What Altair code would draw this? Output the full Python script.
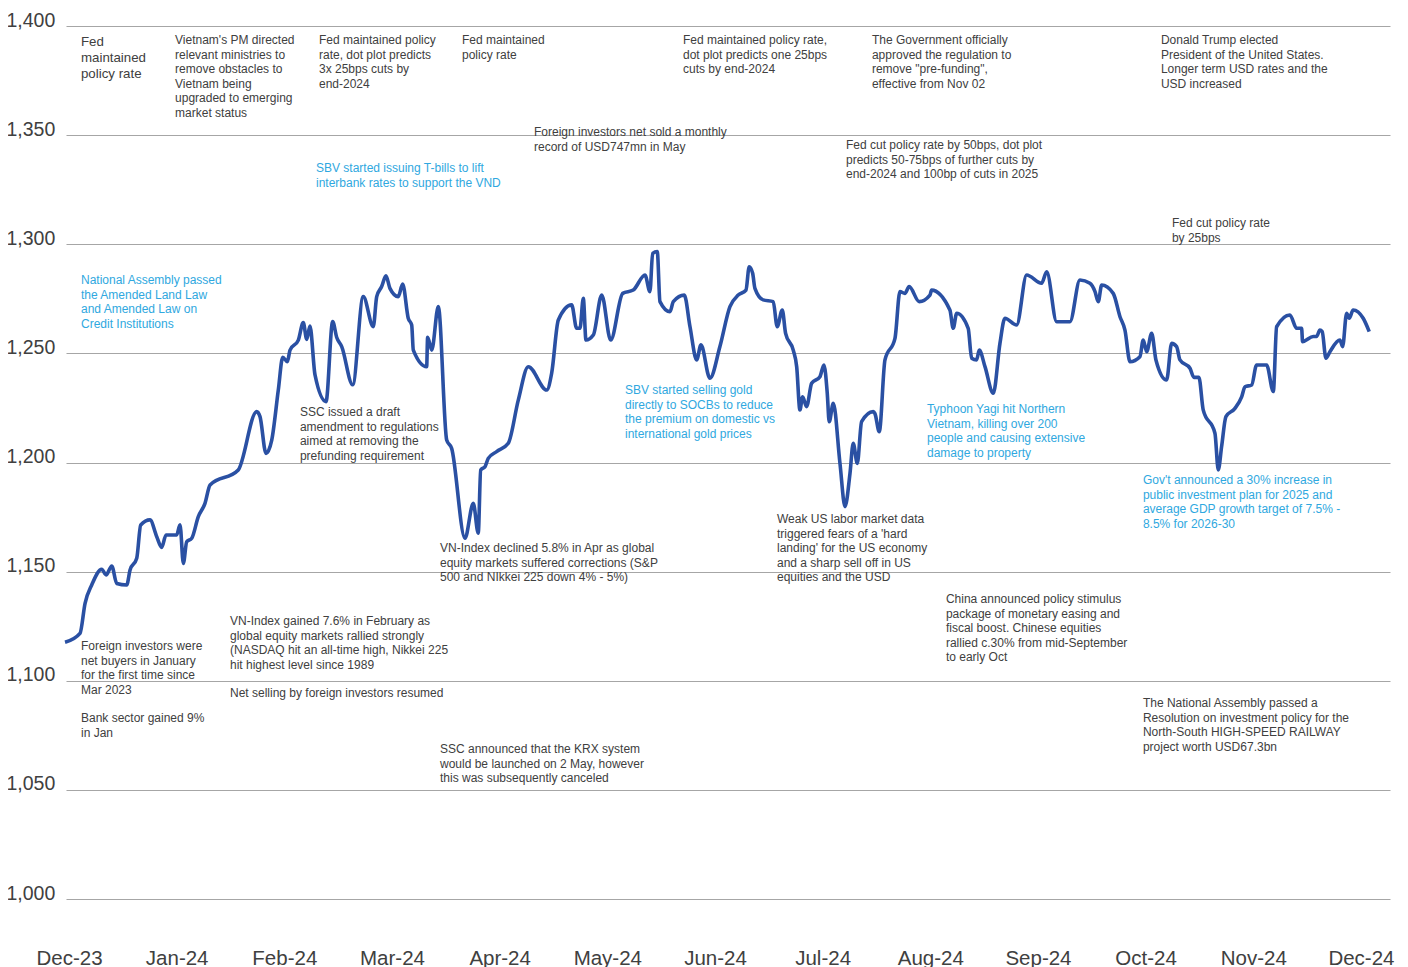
import altair as alt
import pandas as pd

month_labels = ["Dec-23", "Jan-24", "Feb-24", "Mar-24", "Apr-24", "May-24", "Jun-24",
                "Jul-24", "Aug-24", "Sep-24", "Oct-24", "Nov-24", "Dec-24"]
y_ticks = [1000, 1050, 1100, 1150, 1200, 1250, 1300, 1350, 1400]

# position along the axis in months since the Dec-23 label
x_month = [-0.037, 0.102, 0.149, 0.211, 0.304, 0.344, 0.397, 0.443, 0.536, 0.567,
           0.629, 0.666, 0.752, 0.815, 0.861, 0.901, 1.000, 1.031, 1.062, 1.093,
           1.140, 1.201, 1.263, 1.310, 1.572, 1.743, 1.774, 1.830, 1.883, 1.944,
           1.985, 2.028, 2.053, 2.130, 2.176, 2.208, 2.238, 2.285, 2.387, 2.449,
           2.486, 2.533, 2.635, 2.733, 2.826, 2.858, 2.904, 2.944, 2.981, 3.058,
           3.099, 3.151, 3.183, 3.198, 3.322, 3.331, 3.369, 3.430, 3.508, 3.554,
           3.678, 3.755, 3.801, 3.824, 3.864, 3.894, 3.972, 4.080, 4.173, 4.266,
           4.437, 4.483, 4.545, 4.669, 4.715, 4.746, 4.777, 4.802, 4.870, 4.948,
           5.031, 5.143, 5.241, 5.350, 5.396, 5.421, 5.464, 5.489, 5.582, 5.613,
           5.715, 5.768, 5.830, 5.870, 5.953, 6.046, 6.139, 6.216, 6.288, 6.318,
           6.350, 6.371, 6.448, 6.541, 6.578, 6.625, 6.656, 6.727, 6.759, 6.789,
           6.814, 6.851, 6.898, 6.975, 7.012, 7.043, 7.061, 7.099, 7.161, 7.208,
           7.254, 7.284, 7.322, 7.362, 7.470, 7.486, 7.526, 7.579, 7.672, 7.718,
           7.764, 7.804, 7.897, 7.997, 8.012, 8.182, 8.213, 8.245, 8.352, 8.384,
           8.430, 8.455, 8.508, 8.585, 8.647, 8.693, 8.802, 8.895, 9.034, 9.081,
           9.174, 9.297, 9.390, 9.483, 9.530, 9.560, 9.592, 9.699, 9.762, 9.808,
           9.855, 9.947, 9.978, 10.010, 10.056, 10.096, 10.195, 10.242, 10.288, 10.319,
           10.412, 10.449, 10.495, 10.535, 10.644, 10.675, 10.706, 10.746, 10.830, 10.892,
           10.923, 10.985, 11.031, 11.124, 11.186, 11.217, 11.340, 11.403, 11.449, 11.458,
           11.557, 11.588, 11.619, 11.640, 11.675, 11.712, 11.805, 11.830, 11.867, 11.891,
           11.928, 12.021, 12.077]

vn_index = [1117.6, 1121.7, 1135.5, 1143.9, 1151.1, 1148.5, 1152.6, 1144.6, 1143.9, 1150.7,
            1156.1, 1171.4, 1173.7, 1166.0, 1161.1, 1166.8, 1166.8, 1171.4, 1153.8, 1163.7,
            1165.3, 1175.2, 1181.3, 1189.7, 1196.6, 1223.3, 1221.0, 1204.2, 1210.3, 1233.2,
            1248.2, 1246.2, 1251.5, 1256.1, 1264.1, 1256.4, 1262.5, 1240.1, 1227.9, 1264.6,
            1257.4, 1253.1, 1235.6, 1276.0, 1262.2, 1276.0, 1280.6, 1285.5, 1279.8, 1276.0,
            1281.8, 1266.1, 1263.0, 1251.5, 1243.9, 1257.4, 1251.5, 1271.4, 1210.3, 1206.5,
            1165.3, 1181.3, 1167.6, 1196.6, 1198.1, 1201.9, 1205.0, 1208.8, 1228.6, 1243.9,
            1233.2, 1240.9, 1265.3, 1272.2, 1261.5, 1261.5, 1275.2, 1256.1, 1258.4, 1276.7,
            1256.1, 1277.5, 1279.0, 1285.9, 1278.3, 1295.8, 1296.6, 1273.7, 1269.1, 1273.7,
            1276.7, 1262.2, 1247.0, 1253.9, 1238.6, 1253.1, 1271.4, 1276.7, 1279.0, 1289.7,
            1286.7, 1279.8, 1274.5, 1273.7, 1262.2, 1269.9, 1259.2, 1251.5, 1243.9, 1224.1,
            1230.1, 1225.6, 1236.3, 1239.3, 1244.7, 1231.7, 1218.7, 1227.1, 1199.6, 1179.8,
            1195.0, 1208.8, 1199.6, 1218.7, 1223.3, 1222.4, 1214.1, 1247.0, 1256.9, 1278.3,
            1277.5, 1280.6, 1273.7, 1276.7, 1279.0, 1269.9, 1261.5, 1268.4, 1261.5, 1247.8,
            1247.0, 1251.5, 1243.9, 1231.7, 1254.6, 1266.1, 1263.0, 1285.9, 1282.1, 1287.4,
            1264.5, 1264.5, 1283.6, 1282.1, 1278.3, 1273.7, 1281.3, 1277.5, 1266.8, 1260.7,
            1246.2, 1248.5, 1256.1, 1250.8, 1259.2, 1247.0, 1237.8, 1254.6, 1253.1, 1247.0,
            1243.2, 1239.0, 1239.0, 1224.1, 1213.4, 1196.6, 1207.3, 1221.0, 1224.8, 1230.1,
            1234.7, 1235.5, 1244.7, 1244.7, 1232.5, 1262.2, 1267.6, 1261.5, 1261.5, 1255.4,
            1257.7, 1257.7, 1260.7, 1260.0, 1247.8, 1250.8, 1256.1, 1253.1, 1268.4, 1266.1,
            1269.9, 1266.1, 1260.0]

# annotations (anchor: month position, index level)
head_text = ["Fed\nmaintained\npolicy rate"]
head_x = [0.111]
head_y = [1396.0]

dark_texts = [
    "Vietnam's PM directed\nrelevant ministries to\nremove obstacles to\nVietnam being\nupgraded to emerging\nmarket status",
    "Fed maintained policy\nrate, dot plot predicts\n3x 25bps cuts by\nend-2024",
    "Fed maintained\npolicy rate",
    "Fed maintained policy rate,\ndot plot predicts one 25bps\ncuts by end-2024",
    "The Government officially\napproved the regulation to\nremove \"pre-funding\",\neffective from Nov 02",
    "Donald Trump elected\nPresident of the United States.\nLonger term USD rates and the\nUSD increased",
    "Foreign investors net sold a monthly\nrecord of USD747mn in May",
    "Fed cut policy rate by 50bps, dot plot\npredicts 50-75bps of further  cuts by\nend-2024 and 100bp of cuts in  2025",
    "Fed cut policy rate\nby 25bps",
    "SSC issued a draft\namendment to regulations\naimed at removing the\nprefunding requirement",
    "Weak US labor market data\ntriggered fears of a 'hard\nlanding' for the US economy\nand a sharp sell off in US\nequities and the USD",
    "VN-Index declined 5.8% in Apr as global\nequity markets suffered corrections (S&P\n500 and NIkkei 225 down 4% - 5%)",
    "China announced policy stimulus\npackage of monetary easing and\nfiscal boost. Chinese equities\nrallied c.30% from mid-September\nto  early Oct",
    "VN-Index gained 7.6% in February as\nglobal equity markets rallied strongly\n(NASDAQ hit an all-time high, Nikkei 225\nhit highest level since 1989",
    "Foreign investors were\nnet buyers in January\nfor the first time since\nMar 2023",
    "Net selling by foreign investors resumed",
    "Bank sector gained 9%\nin Jan",
    " The National Assembly passed a\nResolution on investment policy for the\nNorth-South HIGH-SPEED RAILWAY\nproject worth USD67.3bn",
    "SSC announced that the KRX system\nwould be launched on 2 May, however\nthis was subsequently canceled",
]
dark_x = [0.985, 2.322, 3.650, 5.703, 7.458, 10.142, 4.319, 7.217, 10.244, 2.145,
          6.576, 3.446, 8.145, 1.495, 0.111, 1.495, 0.111, 9.975, 3.446]
dark_y = [1395.7, 1395.7, 1395.7, 1395.7, 1395.7, 1395.7, 1353.6, 1347.6, 1311.8, 1225.3,
          1176.3, 1162.9, 1139.6, 1129.5, 1118.0, 1096.5, 1085.0, 1091.9, 1070.8]

blue_texts = [
    "SBV started issuing T-bills to  lift\ninterbank rates to support the VND",
    "National Assembly passed\nthe Amended Land Law\nand Amended Law on\nCredit Institutions",
    "SBV started selling gold\ndirectly to SOCBs to reduce\nthe premium on domestic vs\ninternational gold prices",
    "Typhoon Yagi hit Northern\nVietnam, killing over 200\npeople and causing extensive\ndamage to property",
    "Gov't announced a 30% increase in\npublic investment plan for 2025 and\naverage GDP growth target of 7.5% -\n8.5% for 2026-30",
]
blue_x = [2.294, 0.111, 5.164, 7.969, 9.975]
blue_y = [1337.0, 1285.7, 1235.3, 1226.6, 1194.1]

FONT = "Liberation Sans"

series = pd.DataFrame({"m": x_month, "v": vn_index})
label_expr = "[" + ",".join("'%s'" % s for s in month_labels) + "][datum.value]"

x_enc = alt.X("m:Q",
              scale=alt.Scale(domain=[-0.028, 12.27], nice=False, zero=False),
              axis=alt.Axis(values=list(range(len(month_labels))), labelExpr=label_expr,
                            grid=False, ticks=False, tickSize=0, domain=False, title=None,
                            labelFont=FONT, labelFontSize=20.5, labelColor="#404040",
                            labelBaseline="alphabetic", labelPadding=65,
                            labelFlush=False, labelOverlap=False))
y_enc = alt.Y("v:Q",
              scale=alt.Scale(domain=[1000, 1400], nice=False, zero=False),
              axis=alt.Axis(values=y_ticks, format=",.0f", grid=True, gridColor="#a6a6a6",
                            gridWidth=1.2, ticks=False, tickSize=0, domain=False, title=None,
                            labelFont=FONT, labelFontSize=19.5, labelColor="#404040",
                            labelAlign="left", labelBaseline="alphabetic", labelPadding=60))

line = alt.Chart(series).mark_line(color="#2a50a3", strokeWidth=3.6,
                                   interpolate="monotone").encode(x=x_enc, y=y_enc)


def text_layer(texts, xs, ys, color, size, lh):
    df = pd.DataFrame({"t": texts, "m": xs, "v": ys})
    return alt.Chart(df).mark_text(align="left", baseline="top", lineBreak="\n",
                                   font=FONT, fontSize=size, lineHeight=lh,
                                   color=color).encode(
        x=alt.X("m:Q"), y=alt.Y("v:Q"), text="t:N")


chart = alt.layer(
    line,
    text_layer(head_text, head_x, head_y, "#404040", 13.3, 16),
    text_layer(dark_texts, dark_x, dark_y, "#404040", 12, 14.5),
    text_layer(blue_texts, blue_x, blue_y, "#2fa8e0", 12, 14.5),
).properties(
    width=1324, height=873,
    autosize=alt.AutoSizeParams(type="none"),
    padding={"left": 58, "top": 18, "right": 10, "bottom": 70},
).configure_view(stroke=None)

chart.save("out.html", embed_options={"renderer": "svg", "actions": False})
